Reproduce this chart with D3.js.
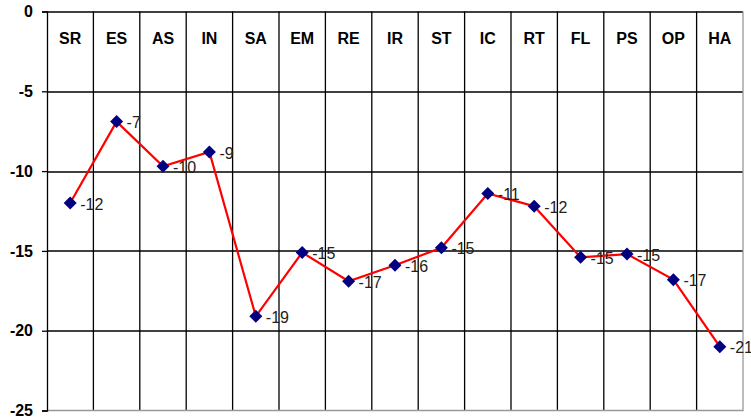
<!DOCTYPE html>
<html lang="en">

<head>
  <meta charset="UTF-8">
  <title>Chart</title>
  <style>
    html,
    body {
      margin: 0;
      background: #fff;
    }

    svg {
      display: block;
    }
  </style>
</head>

<body>
  <svg id="chart" width="751" height="419"></svg>
  <script src="https://cdn.jsdelivr.net/npm/d3@7"></script>
  <script>
    // data
    var categories = ['SR', 'ES', 'AS', 'IN', 'SA', 'EM', 'RE', 'IR', 'ST', 'IC', 'RT', 'FL', 'PS', 'OP', 'HA']
    var values = [-12.0, -6.9, -9.7, -8.8, -19.1, -15.1, -16.9, -15.9, -14.8, -11.4, -12.2, -15.4, -15.2, -16.8, -21.0]
    var yTicks = [0, -5, -10, -15, -20, -25]

    var width = 751
    var height = 419
    var margin = { top: 11.5, right: 8, bottom: 8.5, left: 47 }

    var svg = d3.select('#chart')
    var g = svg.append('g')
      .attr('transform', `translate(${margin.left},${margin.top})`)

    var w = width - margin.left - margin.right
    var h = height - margin.top - margin.bottom

    var x = d3.scaleBand()
      .domain(categories)
      .range([0, w])

    var y = d3.scaleLinear()
      .domain([0, -25])
      .range([0, h])

    // horizontal grid
    g.append('g')
      .selectAll('line')
      .data(yTicks.slice(0, -1))
      .join('line')
      .attr('x1', 0)
      .attr('x2', w)
      .attr('y1', d => Math.round(y(d)) + 0.5)
      .attr('y2', d => Math.round(y(d)) + 0.5)
      .attr('stroke', '#000')
      .attr('stroke-width', 1.3)

    // vertical grid (column separators)
    g.append('g')
      .selectAll('line')
      .data(categories.slice(1))
      .join('line')
      .attr('x1', d => x(d))
      .attr('x2', d => x(d))
      .attr('y1', 0)
      .attr('y2', h)
      .attr('stroke', '#000')
      .attr('stroke-width', 1.3)

    // right and bottom border, grey
    g.append('path')
      .attr('d', `M${w},0V${h}H0`)
      .attr('fill', 'none')
      .attr('stroke', '#999')
      .attr('stroke-width', 1.3)

    // left axis
    var yAxis = g.append('g')
      .call(d3.axisLeft(y).tickValues(yTicks).tickSize(5).tickPadding(9).tickFormat(d3.format('d')))
    yAxis.select('.domain').attr('stroke', '#000').attr('stroke-width', 1.3)
    yAxis.selectAll('.tick line').attr('stroke', '#000').attr('stroke-width', 1.3)
    yAxis.selectAll('.tick text')
      .attr('font-family', 'Liberation Sans, Arial, sans-serif')
      .attr('font-size', 16)
      .attr('font-weight', 'bold')
      .attr('fill', '#000')
      .text(d => d === 0 ? '0' : '-' + Math.abs(d))
    yAxis.attr('font-size', null)

    // category labels at the top
    g.append('g')
      .selectAll('text')
      .data(categories)
      .join('text')
      .attr('x', d => x(d) + x.bandwidth() / 2)
      .attr('y', 27)
      .attr('dy', '0.35em')
      .attr('text-anchor', 'middle')
      .attr('font-family', 'Liberation Sans, Arial, sans-serif')
      .attr('font-size', 16)
      .attr('font-weight', 'bold')
      .text(d => d)

    // line
    var line = d3.line()
      .x((d, i) => x(categories[i]) + x.bandwidth() / 2)
      .y(d => y(d))

    g.append('path')
      .datum(values)
      .attr('d', line)
      .attr('fill', 'none')
      .attr('stroke', '#ff0000')
      .attr('stroke-width', 2.2)

    // markers
    g.append('g')
      .selectAll('path')
      .data(values)
      .join('path')
      .attr('transform', (d, i) => `translate(${x(categories[i]) + x.bandwidth() / 2},${y(d)})`)
      .attr('d', 'M0,-6.5L6.5,0L0,6.5L-6.5,0Z')
      .attr('fill', '#000080')

    // value labels
    g.append('g')
      .selectAll('text')
      .data(values)
      .join('text')
      .attr('x', (d, i) => x(categories[i]) + x.bandwidth() / 2 + 10)
      .attr('y', d => y(d) + 1)
      .attr('dy', '0.35em')
      .attr('font-family', 'Liberation Sans, Arial, sans-serif')
      .attr('font-size', 16)
      .attr('fill', '#222')
      .text(d => Math.round(d))
  </script>
</body>

</html>
